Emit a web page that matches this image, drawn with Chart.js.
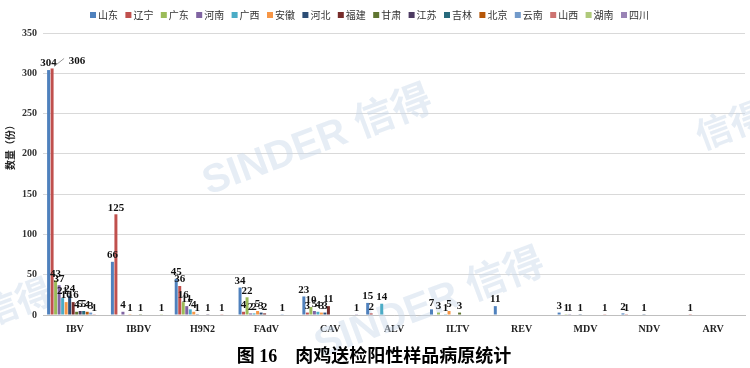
<!DOCTYPE html>
<html>
<head>
<meta charset="utf-8">
<script src="https://cdn.jsdelivr.net/npm/chart.js@4"></script>
<style>
  html, body { margin: 0; padding: 0; background: #fff; }
  #wrap { width: 750px; height: 368px; }
</style>
</head>
<body>
<div id="wrap"><canvas id="chart" width="750" height="368"></canvas></div>
<script>
// --- 数据 ---
const categories = ['IBV', 'IBDV', 'H9N2', 'FAdV', 'CAV', 'ALV', 'ILTV', 'REV', 'MDV', 'NDV', 'ARV'];
const provinces = ['山东', '辽宁', '广东', '河南', '广西', '安徽', '河北', '福建', '甘肃', '江苏', '吉林', '北京', '云南', '山西', '湖南', '四川'];

const shandong = [304, 66, 45, 34, 23, 15, 7, 11, 3, 2, 0];
const liaoning = [306, 125, 36, 4, 3, 2, 0, 0, 0, 1, 1];
const guangdong = [43, 0, 16, 22, 10, 0, 3, 0, 1, 0, 0];
const henan = [37, 4, 11, 2, 5, 0, 0, 0, 1, 0, 0];
const guangxi = [21, 0, 7, 2, 4, 14, 1, 0, 0, 0, 0];
const anhui = [16, 1, 4, 5, 3, 0, 5, 0, 0, 0, 0];
const hebei = [24, 0, 1, 3, 3, 0, 0, 0, 1, 1, 0];
const fujian = [16, 0, 0, 2, 11, 0, 0, 0, 0, 0, 0];
const gansu = [4, 1, 0, 0, 0, 0, 3, 0, 0, 0, 0];
const jiangsu = [5, 0, 1, 0, 0, 0, 0, 0, 0, 0, 0];
const jilin = [5, 0, 0, 0, 0, 0, 0, 0, 0, 0, 0];
const beijing = [4, 0, 0, 0, 0, 0, 0, 0, 0, 0, 0];
const yunnan = [3, 0, 0, 1, 0, 0, 0, 0, 0, 0, 0];
const shanxi = [1, 0, 1, 0, 0, 0, 0, 0, 1, 0, 0];
const hunan = [0, 1, 0, 0, 0, 0, 0, 0, 0, 0, 0];
const sichuan = [0, 0, 0, 0, 1, 0, 0, 0, 0, 0, 0];

const seriesValues = [shandong, liaoning, guangdong, henan, guangxi, anhui, hebei, fujian,
    gansu, jiangsu, jilin, beijing, yunnan, shanxi, hunan, sichuan];

const colors = ['#4F81BD', '#C0504D', '#9BBB59', '#8064A2', '#4BACC6', '#F79646', '#2C4D75', '#772C2A',
    '#5F7530', '#4D3B62', '#276A7C', '#B65708', '#729ACA', '#CD7371', '#AFC97A', '#9983B5'];

const yTicks = [0, 50, 100, 150, 200, 250, 300, 350];
const yTitle = '数量（份）';
const chartTitle = '图 16　肉鸡送检阳性样品病原统计';

// --- 水印 ---
const watermarkPlugin = {
    id: 'watermark',
    beforeDatasetsDraw(chart) {
        const ctx = chart.ctx;
        const marks = [
            { x: 318, y: 142, text: 'SINDER 信得', size: 40 },
            { x: 430, y: 305, text: 'SINDER 信得', size: 40 },
            { x: 18, y: 305, text: '信得', size: 36 },
            { x: 732, y: 128, text: '信得', size: 36 }
        ];
        ctx.save();
        ctx.fillStyle = 'rgba(200, 215, 232, 0.45)';
        ctx.textAlign = 'center';
        ctx.textBaseline = 'middle';
        marks.forEach(m => {
            ctx.save();
            ctx.translate(m.x, m.y);
            ctx.rotate(-0.36);
            ctx.font = `bold ${m.size}px "Liberation Sans", "Noto Sans CJK SC"`;
            ctx.fillText(m.text, 0, 0);
            ctx.restore();
        });
        ctx.restore();
    }
};

// --- 数据标签 ---
const labelPlugin = {
    id: 'barLabels',
    afterDatasetsDraw(chart) {
        const ctx = chart.ctx;
        ctx.save();
        ctx.font = 'bold 11px "Liberation Serif"';
        ctx.fillStyle = '#111';
        ctx.textAlign = 'center';
        ctx.textBaseline = 'bottom';
        chart.data.datasets.forEach((ds, di) => {
            const meta = chart.getDatasetMeta(di);
            meta.data.forEach((bar, i) => {
                const v = ds.data[i];
                if (!v) return;
                if (di === 1 && i === 0) {
                    // 306 标签偏移, 带引导线
                    ctx.strokeStyle = '#999';
                    ctx.lineWidth = 1;
                    ctx.beginPath();
                    ctx.moveTo(bar.x + 2, bar.y - 2);
                    ctx.lineTo(bar.x + 12, bar.y - 10);
                    ctx.stroke();
                    ctx.fillText(String(v), bar.x + 25, bar.y - 2);
                    return;
                }
                ctx.fillText(String(v), bar.x, bar.y - 1);
            });
        });
        ctx.restore();
    }
};

// --- 图例 / 标题 (手动绘制) ---
const textPlugin = {
    id: 'texts',
    afterDraw(chart) {
        const ctx = chart.ctx;
        ctx.save();
        // 图例
        ctx.font = '10px "Noto Sans CJK SC"';
        ctx.textBaseline = 'middle';
        ctx.textAlign = 'left';
        provinces.forEach((name, i) => {
            const x = 90 + i * 35.4;
            ctx.fillStyle = colors[i];
            ctx.fillRect(x, 12, 6, 6);
            ctx.fillStyle = '#333';
            ctx.fillText(name, x + 8, 15);
        });
        // 纵轴标题
        ctx.save();
        ctx.translate(10, 145);
        ctx.rotate(-Math.PI / 2);
        ctx.textAlign = 'center';
        ctx.fillStyle = '#222';
        ctx.font = 'bold 10px "Noto Sans CJK SC"';
        ctx.fillText(yTitle, 0, 0);
        ctx.restore();
        // 图标题
        ctx.textAlign = 'center';
        ctx.fillStyle = '#000';
        ctx.font = 'bold 18px "Liberation Serif", "Noto Sans CJK SC"';
        ctx.fillText(chartTitle, 374, 357);
        ctx.restore();
    }
};

const ctx = document.getElementById('chart').getContext('2d');
new Chart(ctx, {
    type: 'bar',
    data: {
        labels: categories,
        datasets: provinces.map((name, i) => ({
            label: name,
            data: seriesValues[i],
            backgroundColor: colors[i],
            categoryPercentage: 0.88,
            barPercentage: 0.85
        }))
    },
    options: {
        responsive: false,
        animation: false,
        layout: { padding: { left: 16, right: 5, top: 33, bottom: 33 } },
        plugins: {
            legend: { display: false },
            title: { display: false },
            tooltip: { enabled: false }
        },
        scales: {
            x: {
                grid: { display: false },
                border: { color: '#bfbfbf' },
                ticks: {
                    padding: 0,
                    color: '#222',
                    font: { size: 10, weight: 'bold', family: '"Liberation Serif"' }
                }
            },
            y: {
                min: 0,
                max: 350,
                afterBuildTicks(axis) {
                    axis.ticks = yTicks.map(v => ({ value: v }));
                },
                grid: { color: '#d9d9d9', drawTicks: false },
                border: { display: false },
                ticks: {
                    padding: 6,
                    color: '#333',
                    font: { size: 10, weight: 'bold', family: '"Liberation Serif"' }
                }
            }
        }
    },
    plugins: [watermarkPlugin, labelPlugin, textPlugin]
});
</script>
</body>
</html>
